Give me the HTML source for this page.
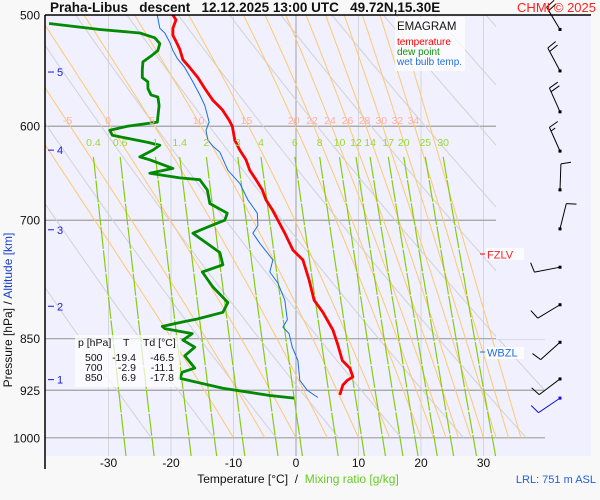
<!DOCTYPE html>
<html><head><meta charset="utf-8"><style>
body{margin:0;background:#f8f8f8;}
svg{display:block;font-family:"Liberation Sans",Arial,sans-serif;}
</style></head><body>
<svg id="chart" width="600" height="500" viewBox="0 0 600 500" xmlns="http://www.w3.org/2000/svg">
<defs><clipPath id="plotclip"><polygon points="45,15 496,15 496,339 545,339 545,456 45,456"/></clipPath></defs>
<rect x="0" y="0" width="600" height="500" fill="#f8f8f8"/>
<rect x="45" y="15" width="546" height="441" fill="#f0f0fe"/>
<g id="grid" clip-path="url(#plotclip)"></g>
<g id="series"></g>
<g id="winds"></g>
<g id="labels"></g>
<line x1="45" y1="15" x2="591" y2="15" stroke="#000" stroke-width="1.5"/>
<line x1="45" y1="15" x2="45" y2="469" stroke="#000" stroke-width="1.5"/>
<text x="50" y="12" font-size="13.5" font-weight="bold" fill="#111" xml:space="preserve">Praha-Libus   descent   12.12.2025 13:00 UTC   49.72N,15.30E</text>
<text x="596" y="12" font-size="13" fill="#ff2020" text-anchor="end">CHMI © 2025</text>
<g>
<rect x="395" y="17" width="70" height="54" fill="#ffffff" fill-opacity="0.75"/>
<text x="397" y="30" font-size="11.5" fill="#111">EMAGRAM</text>
<text x="397" y="45" font-size="10" fill="#ff0000">temperature</text>
<text x="397" y="55" font-size="10" fill="#109010">dew point</text>
<text x="397" y="65" font-size="10" fill="#2070e0">wet bulb temp.</text>
</g>
<g font-size="10.5" fill="#111">
<rect x="75" y="335" width="105" height="52" fill="#ffffff" fill-opacity="0.7"/>
<text x="78" y="346">p [hPa]</text><text x="123" y="346">T</text><text x="143" y="346">Td [°C]</text>
<text x="85" y="361">500</text><text x="136" y="361" text-anchor="end">-19.4</text><text x="174" y="361" text-anchor="end">-46.5</text>
<text x="85" y="371">700</text><text x="136" y="371" text-anchor="end">-2.9</text><text x="174" y="371" text-anchor="end">-11.1</text>
<text x="85" y="381">850</text><text x="136" y="381" text-anchor="end">6.9</text><text x="174" y="381" text-anchor="end">-17.8</text>
</g>
<g>
<rect x="486" y="248" width="38" height="12" fill="#ffffff" fill-opacity="0.8"/>
<line x1="480" y1="254" x2="485" y2="254" stroke="#ff0000"/>
<text x="487" y="258.5" font-size="11" fill="#ff2020">FZLV</text>
</g>
<g>
<rect x="486" y="347" width="38" height="12" fill="#ffffff" fill-opacity="0.8"/>
<line x1="480" y1="352" x2="485" y2="352" stroke="#2070e0"/>
<text x="487" y="356.5" font-size="11" fill="#2070e0">WBZL</text>
</g>
<text x="0" y="0" font-size="12" text-anchor="middle" transform="translate(12,310) rotate(-90)"><tspan fill="#111">Pressure [hPa]  /  </tspan><tspan fill="#1a3fd0">Altitude [km]</tspan></text>
<text x="298" y="483" font-size="12" text-anchor="middle" xml:space="preserve"><tspan fill="#111">Temperature [°C]  /  </tspan><tspan fill="#66cc22">Mixing ratio [g/kg]</tspan></text>
<text x="596" y="483" font-size="11" fill="#2060e0" text-anchor="end">LRL: 751 m ASL</text>
</svg>
<script>
const pressureTicks=[500,600,700,850,925,1000];
const tempTicks=[-30,-20,-10,0,10,20,30];
const altKm=[5,4,3,2,1];
const altP=[549,624,711,806,909];
const mixRatios=[0.4,0.6,1,1.4,2,3,4,6,8,10,12,14,17,20,25,30];
const thetaW=[-10,-5,0,5,10,15,20,22,24,26,28,30,32,34,36];
const thetaW_labeled=[-5,0,5,10,15,20,22,24,26,28,30,32,34];
const thetaDry=[250,260,270,280,290,300,310,320,330,340,350,360,370,380,390,400,410,420];
const tempP=[500,504,511,517,522,529,538,545,554,564,575,584,594,600,614,624,634,645,655,666,677,688,700,715,735,747,772,798,814,838,859,881,892,905,910,917,932];
const tempT=[-19.7,-19.2,-19.7,-19.7,-19.2,-18.6,-18.1,-17.0,-15.7,-14.6,-13.3,-11.8,-10.7,-10.2,-9.8,-9.0,-8.0,-7.4,-6.4,-5.4,-4.8,-3.8,-2.9,-1.8,-0.5,1.1,2.1,2.9,4.3,5.9,6.7,7.4,8.6,9.1,8.2,7.5,7.0];
const dewP=[507,512,515,519,524,530,534,540,547,554,558,564,570,572,580,596,600,604,609,616,619,624,631,634,643,648,653,655,666,681,692,700,708,715,721,738,753,762,781,801,814,823,827,833,836,843,852,862,874,892,898,907,922,933,937];
const dewT=[-39.5,-31.4,-25.0,-22.6,-21.8,-22.1,-23.0,-24.5,-24.6,-24.6,-23.7,-23.7,-23.2,-22.1,-21.9,-22.2,-27.0,-29.8,-29.4,-23.8,-21.8,-22.9,-25.0,-23.4,-19.7,-23.4,-18.6,-15.4,-14.2,-13.8,-11.0,-11.4,-14.2,-16.5,-15.4,-12.2,-11.7,-15.0,-13.3,-10.9,-11.7,-15.8,-18.1,-21.4,-21.0,-16.6,-18.1,-16.2,-17.8,-16.2,-18.2,-18.6,-11.7,-4.2,-0.3];
const wbP=[500,511,515,523,530,537,545,558,570,580,589,596,604,614,620,626,645,659,677,692,706,715,727,747,762,776,798,824,834,843,862,881,910,925,936];
const wbT=[-22.2,-21.8,-21.0,-20.2,-19.7,-19.0,-17.8,-16.5,-15.4,-14.6,-14.2,-13.9,-14.4,-14.1,-13.3,-12.2,-10.9,-9.0,-7.7,-6.2,-6.1,-6.9,-5.8,-3.7,-4.2,-2.9,-1.8,-1.4,-2.1,-1.1,-0.6,0.3,0.6,1.8,3.5];
const windP=[512,548,586,625,666,710,756,804,855,908,937];
const windDir=[329,332,336,336,2,14,259,239,228,233,236];
const windKt=[20,20,20,15,10,10,10,10,10,10,10];
const SVGNS="http://www.w3.org/2000/svg";
function X(t){return 296+t*6.25;}
function Y(p){return 15+610*Math.log(p/500);}
function mk(tag,attrs,parent){const e=document.createElementNS(SVGNS,tag);for(const k in attrs)e.setAttribute(k,attrs[k]);parent.appendChild(e);return e;}
const grid=document.getElementById('grid'),series=document.getElementById('series'),winds=document.getElementById('winds'),labels=document.getElementById('labels');
tempTicks.forEach(t=>{const l=mk('line',{x1:X(t),x2:X(t),y1:15,y2:456,stroke:t===0?'#a0a0a0':'#d6d6d6','stroke-width':1},grid);


const tx=mk('text',{x:X(t),y:467,'font-size':12,'text-anchor':'middle',fill:'#111'},labels);tx.textContent=t;

});
pressureTicks.forEach(p=>{if(p>500){const l=mk('line',{x1:45,x2:591,y1:Y(p),y2:Y(p),stroke:'#a0a0a0','stroke-width':1.2},grid);

}
const tx=mk('text',{x:40,y:Y(p)+4.5,'font-size':12,'text-anchor':'end',fill:'#111'},labels);tx.textContent=p;

});
altKm.forEach((k,i)=>{const y=Y(altP[i]);mk('line',{x1:48,x2:54,y1:y,y2:y,stroke:'#1a1ad0'},labels);
const tx=mk('text',{x:57,y:y+4,'font-size':11,fill:'#1a1ad0'},labels);tx.textContent=k;

});
thetaDry.forEach(th=>{let pts=[];for(let p=480;p<=1000;p+=10){const T=th*Math.pow(p/1000,0.2857)-273.15;pts.push(X(T).toFixed(1)+','+Y(p).toFixed(1));}
const l=mk('polyline',{points:pts.join(' '),fill:'none',stroke:'#d2d2d2','stroke-width':1},grid);

});
function es(T){return 6.112*Math.exp(17.67*T/(T+243.5));}
function moist(tw){let T=tw,pts=[];const Rd=287,cp=1005,Lv=2.5e6;
for(let p=1000;p>=470;p-=2){pts.push([p,T]);const Tk=T+273.15;const e=es(T);const rs=0.622*e/(p-e);
const d=(Rd*Tk+Lv*rs)/(p*(cp+Lv*Lv*rs*0.622/(Rd*Tk*Tk)));T-=d*2;}return pts;}
thetaW.forEach(tw=>{const pts=moist(tw);
const l=mk('polyline',{points:pts.map(a=>X(a[1]).toFixed(1)+','+Y(a[0]).toFixed(1)).join(' '),fill:'none',stroke:'#ffc870','stroke-width':1},grid);


if(thetaW_labeled.indexOf(tw)>=0){const a=pts.find(q=>q[0]<=596);
const tx=mk('text',{x:X(a[1]),y:124,'font-size':10.5,'text-anchor':'middle',fill:'#ffb0a0'},labels);tx.textContent=tw;

}});
function tdOf(w,p){const e=w*p/(622+w);const L=Math.log(e/6.112);return 243.5*L/(17.67-L);}
mixRatios.forEach(w=>{let pts=[];for(let p=631;p<=1035;p+=8){pts.push(X(tdOf(w,p)).toFixed(1)+','+Y(p).toFixed(1));}
const l=mk('polyline',{points:pts.join(' '),fill:'none',stroke:'#88cc11','stroke-width':1.2,'stroke-dasharray':'22,1.5'},grid);


const tx=mk('text',{x:X(tdOf(w,631)),y:146,'font-size':10.5,'text-anchor':'middle',fill:'#99d833'},labels);tx.textContent=w;

});
function prof(P,T,color,w,name){const l=mk('polyline',{points:P.map((p,i)=>X(T[i]).toFixed(1)+','+Y(p).toFixed(1)).join(' '),fill:'none',stroke:color,'stroke-width':w,'stroke-linejoin':'round'},series);

}
const sc=document.createElementNS(SVGNS,'clipPath');sc.setAttribute('id','lclip');mk('rect',{x:45,y:15,width:550,height:441},sc);document.querySelector('defs').appendChild(sc);
series.setAttribute('clip-path','url(#lclip)');
prof(wbP,wbT,'#1a6fe0',1,'wet-bulb-line');
prof(dewP,dewT,'#008a00',2.8,'dew-point-line');
prof(tempP,tempT,'#ff0000',2.8,'temperature-line');
windP.forEach((p,i)=>{const x0=560,y0=Y(p);const a=windDir[i]*Math.PI/180;const ux=Math.sin(a),uy=-Math.cos(a);const L=26;
const tx=x0+ux*L,ty=y0+uy*L;const col=(i===windP.length-1)?'#1010e0':'#000';
const g=mk('g',{},winds);


mk('line',{x1:x0,y1:y0,x2:tx,y2:ty,stroke:col,'stroke-width':1},g);
mk('rect',{x:x0-1.5,y:y0-1.5,width:3,height:3,fill:col},g);
const px=-uy,py=ux;let kt=windKt[i],k=0;
while(kt>=10){const bx=tx-ux*k*4,by=ty-uy*k*4;mk('line',{x1:bx,y1:by,x2:bx+px*10+ux*2,y2:by+py*10+uy*2,stroke:col},g);kt-=10;k++;}
if(kt>=5){const bx=tx-ux*k*4,by=ty-uy*k*4;mk('line',{x1:bx,y1:by,x2:bx+px*5+ux*1,y2:by+py*5+uy*1,stroke:col},g);}
});
</script>
</body></html>
